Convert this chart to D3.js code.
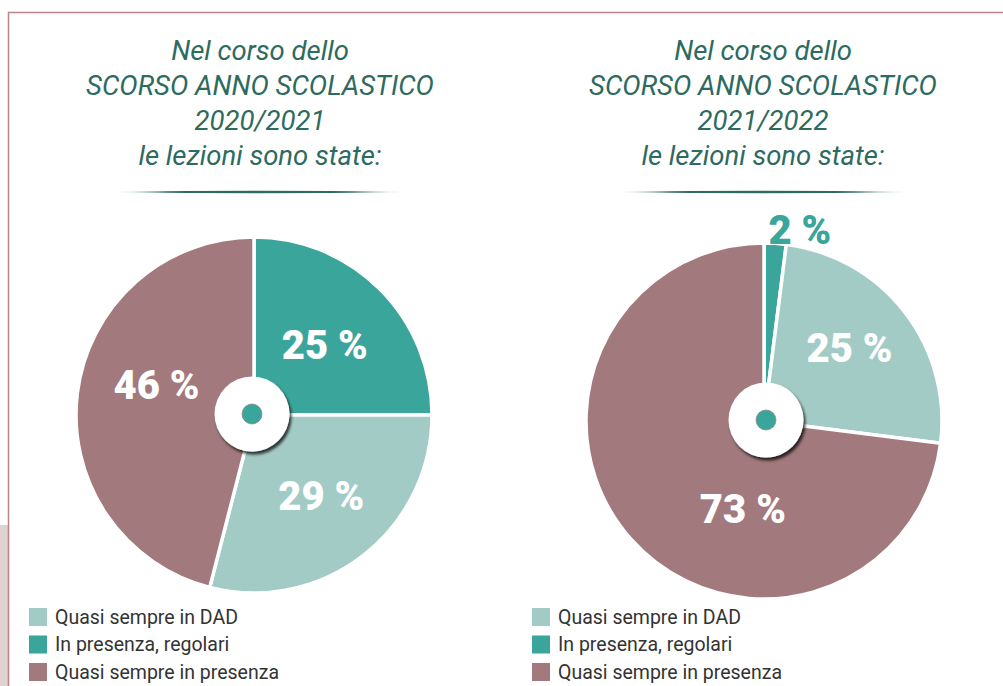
<!DOCTYPE html>
<html>
<head>
	<meta charset="UTF-8">
	<title>Lezioni</title>
	<style>
		body { margin: 0; background: #fff; }
		svg { display: block; font-family: Roboto, "Open Sans", sans-serif; }
		.title { fill: #2d6a5f; font-style: italic; font-weight: 400; font-size: 27.5px; text-anchor: middle; }
		.plabel { font-weight: 900; font-size: 40px; text-anchor: middle; }
		.legend text { fill: #333; font-size: 19.5px; }
	</style>
</head>
<body>
<script src="https://cdn.jsdelivr.net/npm/d3@7/dist/d3.min.js"></script>
<script>

'use strict';

// data
var categories = ["Quasi sempre in DAD", "In presenza, regolari", "Quasi sempre in presenza"];
var values2021 = [29, 25, 46];
var values2022 = [25, 2, 73];
var sliceOrder = [1, 0, 2]; // clockwise from 12 o'clock
var titles2021 = ["Nel corso dello", "SCORSO ANNO SCOLASTICO", "2020/2021", "le lezioni sono state:"];
var titles2022 = ["Nel corso dello", "SCORSO ANNO SCOLASTICO", "2021/2022", "le lezioni sono state:"];

var width = 1003;
var height = 686;
var colors = ["#a3cbc6", "#3aa59b", "#a2797d"];
var titleColor = "#2d6a5f";

var svg = d3.select("body").append("svg")
	.attr("width", width)
	.attr("height", height);

var defs = svg.append("defs");

var shadow = defs.append("filter")
	.attr("id", "shadow")
	.attr("x", "-30%").attr("y", "-30%")
	.attr("width", "160%").attr("height", "160%");
shadow.append("feDropShadow")
	.attr("dx", 2).attr("dy", 3)
	.attr("stdDeviation", 1.6)
	.attr("flood-color", "#000")
	.attr("flood-opacity", 0.75);

var grad = defs.append("linearGradient")
	.attr("id", "rule");
[[0, 0.15], [0.18, 1], [0.82, 1], [1, 0.15]].forEach(function(s){
	grad.append("stop")
		.attr("offset", s[0])
		.attr("stop-color", titleColor)
		.attr("stop-opacity", s[1]);
});

// frame
svg.append("rect")
	.attr("x", 0).attr("y", 525)
	.attr("width", 8).attr("height", height - 525)
	.attr("fill", "#e0d1d3");
svg.append("path")
	.attr("d", "M8.5," + height + "V12.5H" + width)
	.attr("fill", "none")
	.attr("stroke", "#b8858b")
	.attr("stroke-width", 1.5);

// label nudges in slice order (clockwise from 12 o'clock)
var charts = [
	{values: values2021, titles: titles2021, cx: 254, cy: 415, tx: 260, rule: [115, 404], legendX: 29, hole: [-2, -1],
		labels: [{da: 0, r: 100}, {da: -2, r: 105}, {da: 10, r: 102}]},
	{values: values2022, titles: titles2022, cx: 764, cy: 421, tx: 763, rule: [618, 907], legendX: 532, hole: [2, -1],
		labels: [{da: 7, r: 195}, {da: -3, r: 113}, {da: -35, r: 90}]}
];

var pie = d3.pie()
	.sort(null)
	.value(function(d){ return d.value; });

var radius = 178;
var arc = d3.arc()
	.innerRadius(0)
	.outerRadius(radius);

charts.forEach(function(c){
	var g = svg.append("g");

	// title
	var t = g.append("text")
		.attr("class", "title")
		.attr("x", c.tx)
		.attr("y", 60);
	c.titles.forEach(function(line, i){
		t.append("tspan")
			.attr("x", c.tx)
			.attr("dy", i ? 35 : 0)
			.text(line);
	});

	var x0 = c.rule[0], x1 = c.rule[1], ry = 192;
	g.append("path")
		.attr("d", "M" + x0 + "," + ry + "Q" + (x0 + x1) / 2 + "," + (ry - 2.6) + " " + x1 + "," + ry +
			"Q" + (x0 + x1) / 2 + "," + (ry + 2.6) + " " + x0 + "," + ry + "Z")
		.attr("fill", "url(#rule)");

	// pie
	var data = sliceOrder.map(function(k){ return {key: k, value: c.values[k]}; });
	var arcs = pie(data);

	var pg = g.append("g")
		.attr("transform", "translate(" + c.cx + "," + c.cy + ")");

	pg.selectAll("path.slice")
		.data(arcs)
	.enter().append("path")
		.attr("class", "slice")
		.attr("d", arc)
		.attr("fill", function(d){ return colors[d.data.key]; })
		.attr("stroke", "#fff")
		.attr("stroke-width", 3.5)
		.attr("stroke-linejoin", "round");

	pg.selectAll("text.plabel")
		.data(arcs)
	.enter().append("text")
		.attr("class", "plabel")
		.attr("fill", function(d){ return d.data.value < 5 ? colors[d.data.key] : "#fff"; })
		.attr("transform", function(d, i){
			var l = c.labels[i];
			var a = (d.startAngle + d.endAngle) / 2 + l.da * Math.PI / 180;
			return "translate(" + (Math.sin(a) * l.r) + "," + (-Math.cos(a) * l.r) + ")";
		})
		.attr("dy", "0.36em")
		.text(function(d){ return d.data.value + " %"; });

	// hole
	pg.append("circle")
		.attr("cx", c.hole[0]).attr("cy", c.hole[1])
		.attr("r", 37.5)
		.attr("fill", "#fff")
		.attr("filter", "url(#shadow)");
	pg.append("circle")
		.attr("cx", c.hole[0]).attr("cy", c.hole[1])
		.attr("r", 10)
		.attr("fill", colors[1])
		.attr("stroke", "#8a8a8a")
		.attr("stroke-width", 0.8);

	// legend
	var lg = g.append("g")
		.attr("class", "legend")
		.attr("transform", "translate(" + c.legendX + ",608)");
	var rows = lg.selectAll("g")
		.data(categories)
	.enter().append("g")
		.attr("transform", function(d, i){ return "translate(0," + (i * 27.5) + ")"; });
	rows.append("rect")
		.attr("width", 18)
		.attr("height", 18)
		.attr("fill", function(d, i){ return colors[i]; });
	rows.append("text")
		.attr("x", 26)
		.attr("y", 15.5)
		.text(function(d){ return d; });
});

</script>
</body>
</html>
